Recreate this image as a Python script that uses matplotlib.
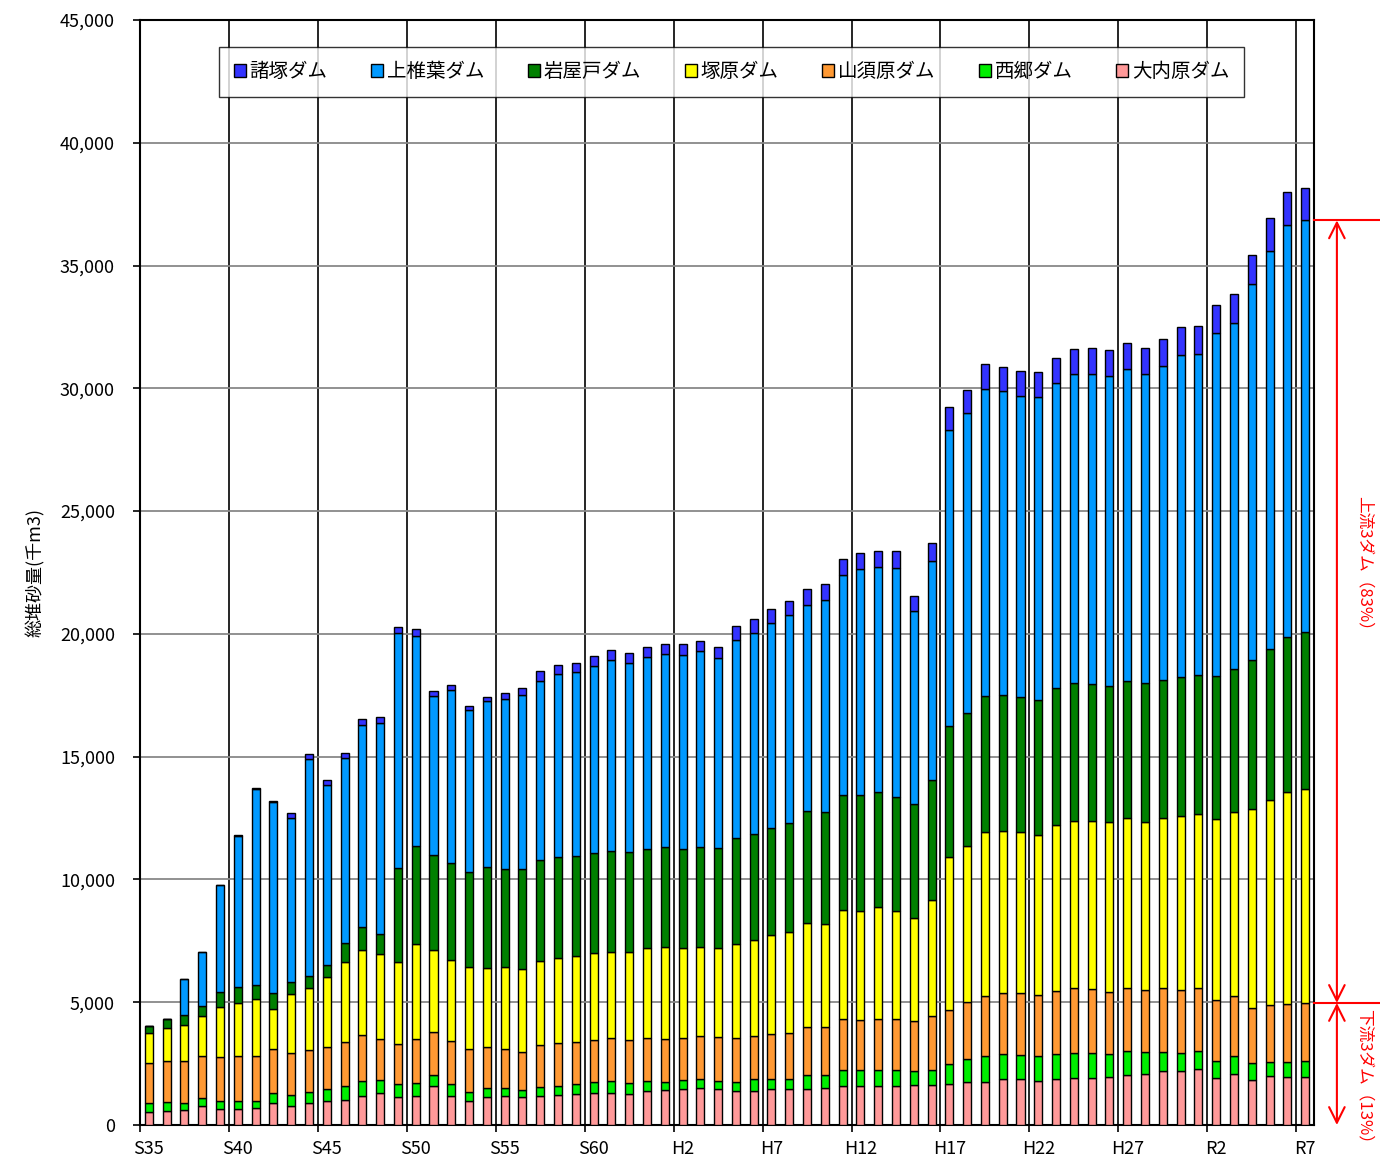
import matplotlib
matplotlib.use("Agg")
import matplotlib.pyplot as plt
import matplotlib.transforms as mtransforms
import numpy as np

plt.rcParams['font.family'] = ['Noto Sans CJK JP', 'DejaVu Sans']

# 年度ラベル（S35〜R7）
years = (["S%d" % y for y in range(35, 64)] + ["H%d" % y for y in range(1, 31)]
         + ["R%d" % y for y in range(1, 8)])
tick_labels = ["S35", "S40", "S45", "S50", "S55", "S60", "H2", "H7",
               "H12", "H17", "H22", "H27", "R2", "R7"]

# 各ダムの堆砂量（千m3）
ouchibaru = [540, 590, 600, 780, 670, 670, 690, 910, 790, 900, 970, 1020, 1200, 1310,
             1160, 1200, 1580, 1170, 970, 1140, 1180, 1160, 1200, 1220, 1260, 1290,
             1310, 1280, 1390, 1430, 1450, 1510, 1480, 1400, 1400, 1450, 1450, 1470,
             1490, 1590, 1580, 1590, 1590, 1620, 1630, 1680, 1770, 1770, 1860, 1860,
             1810, 1860, 1920, 1900, 1940, 2050, 2060, 2190, 2210, 2270, 1930, 2080,
             1830, 1980, 1940, 1940]
saigo = [340, 350, 310, 300, 300, 300, 300, 380, 420, 440, 480, 570, 610, 540,
         530, 520, 450, 520, 370, 350, 310, 250, 330, 350, 420, 450,
         500, 450, 410, 330, 380, 350, 330, 370, 460, 440, 440, 580,
         560, 650, 640, 650, 640, 580, 620, 790, 910, 1030, 1020, 990,
         1000, 1020, 1030, 1020, 940, 950, 920, 800, 730, 760, 690, 730,
         680, 580, 630, 670]
yamasubaru = [1660, 1670, 1700, 1710, 1800, 1820, 1820, 1820, 1740, 1730, 1740, 1790, 1860, 1670,
              1620, 1790, 1740, 1730, 1770, 1700, 1600, 1550, 1710, 1770, 1710, 1740,
              1740, 1740, 1740, 1740, 1710, 1750, 1770, 1780, 1770, 1820, 1850, 1940,
              1940, 2080, 2060, 2080, 2090, 2040, 2200, 2230, 2320, 2470, 2500, 2530,
              2470, 2590, 2620, 2610, 2550, 2580, 2530, 2570, 2570, 2550, 2460, 2460,
              2260, 2320, 2360, 2360]
tsukabaru = [1210, 1320, 1480, 1650, 2050, 2190, 2320, 1620, 2370, 2510, 2850, 3250, 3470, 3440,
             3340, 3850, 3360, 3300, 3330, 3220, 3330, 3380, 3450, 3480, 3480, 3510,
             3490, 3560, 3670, 3740, 3660, 3630, 3610, 3820, 3920, 4020, 4110, 4250,
             4180, 4440, 4430, 4560, 4390, 4210, 4700, 6220, 6380, 6670, 6600, 6550,
             6550, 6760, 6830, 6870, 6890, 6910, 6830, 6940, 7060, 7080, 7390, 7470,
             8080, 8340, 8620, 8710]
iwayado = [300, 380, 410, 390, 600, 630, 580, 630, 490, 490, 460, 800, 910, 800,
           3820, 4020, 3870, 3960, 3880, 4090, 4010, 4100, 4100, 4090, 4070, 4090,
           4110, 4090, 4050, 4070, 4050, 4090, 4100, 4310, 4290, 4350, 4430, 4550,
           4560, 4690, 4730, 4670, 4660, 4640, 4900, 5340, 5380, 5530, 5530, 5490,
           5490, 5570, 5610, 5550, 5570, 5610, 5640, 5620, 5660, 5660, 5830, 5830,
           6070, 6180, 6340, 6380]
kamishiiba = [0, 0, 1440, 2200, 4350, 6160, 7970, 7790, 6690, 8850, 7360, 7520, 8220, 8600,
              9570, 8540, 6460, 7030, 6580, 6760, 6920, 7080, 7310, 7450, 7520, 7630,
              7780, 7700, 7780, 7870, 7880, 7970, 7740, 8060, 8200, 8360, 8500, 8400,
              8670, 8930, 9200, 9160, 9310, 7830, 8900, 12030, 12220, 12500, 12370, 12270,
              12330, 12420, 12560, 12640, 12610, 12680, 12610, 12790, 13140, 13090, 13970, 14090,
              15340, 16200, 16770, 16780]
morotsuka = [0, 0, 0, 0, 0, 30, 30, 30, 190, 180, 180, 200, 270, 270,
             260, 290, 230, 200, 180, 180, 260, 260, 370, 370, 370, 370,
             410, 390, 410, 410, 450, 410, 430, 580, 570, 570, 570, 640,
             650, 690, 650, 680, 690, 640, 760, 950, 950, 1020, 980, 1010,
             1000, 1030, 1030, 1050, 1060, 1060, 1050, 1090, 1130, 1110, 1130, 1170,
             1150, 1330, 1330, 1330]

series = [
    ("大内原ダム", ouchibaru, "#FF9999"),
    ("西郷ダム", saigo, "#00EE00"),
    ("山須原ダム", yamasubaru, "#FF9933"),
    ("塚原ダム", tsukabaru, "#FFFF00"),
    ("岩屋戸ダム", iwayado, "#008000"),
    ("上椎葉ダム", kamishiiba, "#0099FF"),
    ("諸塚ダム", morotsuka, "#3333FF"),
]

fig = plt.figure(figsize=(13.8, 11.57), dpi=100)
ax = fig.add_axes([140 / 1380, 32 / 1157, 1174 / 1380, 1105 / 1157])

x = np.arange(len(years))
bottom = np.zeros(len(years))
handles = []
for name, vals, color in series:
    v = np.array(vals, dtype=float)
    b = ax.bar(x, v, width=0.45, bottom=bottom, color=color, edgecolor="black",
               linewidth=1.0, label=name, zorder=3)
    handles.append(b)
    bottom += v

ax.set_xlim(-0.5, len(years) - 0.5)
ax.set_ylim(0, 45000)
ax.set_yticks(np.arange(0, 45001, 5000))
ax.yaxis.set_major_formatter(matplotlib.ticker.FuncFormatter(lambda v, p: f"{int(v):,}"))
ax.grid(axis="y", color="#888888", linewidth=1.3, zorder=0)

# 5年ごとの区切り線
for b in np.arange(4.5, len(years) - 1, 5):
    ax.axvline(b, color="black", linewidth=1.2, zorder=1)

ax.set_xticks(np.arange(-0.5, len(years), 5))
ax.set_xticklabels([])
ax.set_xticks(np.arange(0, len(years), 5), minor=True)
ax.set_xticklabels(tick_labels, minor=True)
ax.tick_params(axis="x", which="major", direction="out", length=5, width=1.2)
ax.tick_params(axis="x", which="minor", length=0, pad=11, labelsize=13)
ax.tick_params(axis="y", direction="out", length=5, width=1.2, labelsize=13, pad=13)
for s in ax.spines.values():
    s.set_linewidth(1.5)

ax.set_ylabel("総堆砂量(千m3)", fontsize=13, labelpad=11)

leg = ax.legend(handles[::-1], [s[0] for s in series][::-1], loc="center",
                bbox_to_anchor=(0.504, 0.953), ncol=7, fontsize=14, frameon=True,
                fancybox=False, edgecolor="black", handlelength=0.6, handleheight=0.6,
                handletextpad=0.2, columnspacing=2.25, borderpad=0.75)
leg.get_frame().set_linewidth(1.0)
leg.set_zorder(5)

# 右側の注記（R7の内訳）
last = len(years) - 1
lower3 = ouchibaru[last] + saigo[last] + yamasubaru[last]
upper3 = lower3 + tsukabaru[last] + iwayado[last] + kamishiiba[last]
total = upper3 + morotsuka[last]
trans = mtransforms.blended_transform_factory(ax.transAxes, ax.transData)
for lv in (lower3, upper3):
    ax.plot([1.0, 1.06], [lv, lv], color="red", linewidth=1.5, transform=trans,
            clip_on=False, zorder=6)
ax_x = 1.0195
arrow = dict(arrowstyle="<->", color="red", lw=1.5, mutation_scale=28,
             shrinkA=0, shrinkB=0)
ax.annotate("", xy=(ax_x, upper3), xytext=(ax_x, lower3), xycoords=trans,
            textcoords=trans, arrowprops=arrow, annotation_clip=False)
ax.annotate("", xy=(ax_x, lower3), xytext=(ax_x, 0), xycoords=trans,
            textcoords=trans, arrowprops=arrow, annotation_clip=False)
up_pct = round((upper3 - lower3) / total * 100)
lo_pct = round(lower3 / total * 100)
ax.text(1.043, 22700, f"上流3ダム（{up_pct}%）", color="red", rotation=-90,
        ha="center", va="center", fontsize=12, transform=trans)
ax.text(1.043, 1800, f"下流3ダム（{lo_pct}%）", color="red", rotation=-90,
        ha="center", va="center", fontsize=12, transform=trans)

fig.savefig("out.png", dpi=100)
